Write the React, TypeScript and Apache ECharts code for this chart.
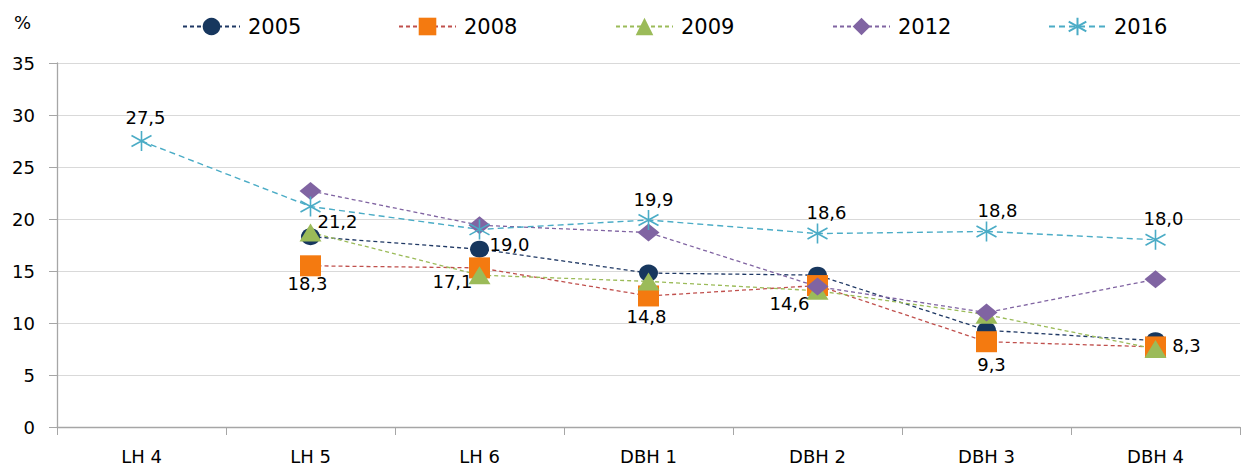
import React, { useEffect, useRef } from "react";
import * as echarts from "echarts";

const categories = ["LH 4", "LH 5", "LH 6", "DBH 1", "DBH 2", "DBH 3", "DBH 4"];
const years = ["2005", "2008", "2009", "2012", "2016"];

const v2005 = [null, 18.3, 17.1, 14.8, 14.6, 9.3, 8.3];
const v2008 = [null, 15.5, 15.3, 12.6, 13.6, 8.2, 7.7];
const v2009 = [null, 18.7, 14.6, 14.0, 13.1, 10.8, 7.5];
const v2012 = [null, 22.7, 19.4, 18.7, 13.5, 11.0, 14.2];
const v2016 = [27.5, 21.2, 19.0, 19.9, 18.6, 18.8, 18.0];

const yTicks = { min: 0, max: 35, interval: 5 };

// layout / styling only
const legendLefts = [177, 393, 610, 827, 1043];
const off2005 = [null, [-3, 47], [-27, 32], [-2, 43], [-28, 28], [5, 34], [31, 5]];
const off2016 = [[4, -24], [27, 15], [30, 15], [5, -21], [9, -21], [11, -21], [8, -21]];

const FONT = "DejaVu Sans";
const fmt = (p: any) => (p.value == null ? "" : Number(p.value).toFixed(1).replace(".", ","));

function withLabels(vals: (number | null)[], offs: any[]) {
  return vals.map((v, i) =>
    v == null
      ? null
      : {
          value: v,
          label: { show: true, position: "inside", offset: offs[i], formatter: fmt, color: "#000", fontFamily: FONT, fontSize: 18 },
        }
  );
}

const STAR = "path://M10,0L10,20M1,4.5L19,15.5M1,15.5L19,4.5";

export default function App() {
  const ref = useRef<HTMLDivElement>(null);
  useEffect(() => {
    if (!ref.current) return;
    const chart = echarts.init(ref.current, undefined, { renderer: "svg" });
    const base = (name: string, data: any[], lineColor: string, symColor: string, symbol: string, size: any) => ({
      name,
      type: "line",
      data,
      symbol,
      symbolSize: size,
      connectNulls: false,
      lineStyle: { color: lineColor, width: 1.3, type: [4, 3] },
      itemStyle: { color: symColor },
      emphasis: { disabled: true },
    });
    chart.setOption({
      animation: false,
      textStyle: { fontFamily: FONT },
      grid: { left: 57, right: 2, top: 63, bottom: 36, containLabel: false },
      graphic: [{ type: "text", left: 14, top: 13, style: { text: "%", fontFamily: FONT, fontSize: 18, fill: "#000" } }],
      legend: years.map((y, i) => ({
        top: 11,
        left: legendLefts[i],
        itemWidth: 57,
        itemHeight: 22,
        textStyle: { fontFamily: FONT, fontSize: 21, color: "#000", padding: [0, 0, 0, 3] },
        data: [y],
      })),
      xAxis: {
        type: "category",
        data: categories,
        boundaryGap: true,
        axisLine: { lineStyle: { color: "#A6A6A6", width: 1.3 } },
        axisTick: { show: true, length: 8, lineStyle: { color: "#A6A6A6" } },
        axisLabel: { fontFamily: FONT, fontSize: 18, color: "#000", margin: 20 },
      },
      yAxis: {
        type: "value",
        min: yTicks.min,
        max: yTicks.max,
        interval: yTicks.interval,
        axisLine: { show: true, lineStyle: { color: "#A6A6A6", width: 1.3 } },
        axisTick: { show: true, length: 8, lineStyle: { color: "#A6A6A6" } },
        axisLabel: { fontFamily: FONT, fontSize: 18, color: "#000", margin: 22 },
        splitLine: { lineStyle: { color: "#D9D9D9", width: 1 } },
      },
      series: [
        base("2005", withLabels(v2005, off2005), "#1F3864", "#17375E", "circle", [19, 17]),
        base("2008", v2008, "#C0504D", "#F47A10", "rect", 21),
        base("2009", v2009, "#9BBB59", "#9BBB59", "triangle", [22, 18]),
        base("2012", v2012, "#8064A2", "#8064A2", "diamond", [22, 18]),
        {
          ...base("2016", withLabels(v2016, off2016), "#4BACC6", "#4BACC6", STAR, 20),
          itemStyle: { color: "#4BACC6", borderColor: "#4BACC6", borderWidth: 1.6 },
          lineStyle: { color: "#4BACC6", width: 1.4, type: [6, 4] },
        },
      ],
    });
    return () => chart.dispose();
  }, []);
  return <div ref={ref} style={{ width: 1242, height: 465, position: "absolute", left: 0, top: 0 }} />;
}
